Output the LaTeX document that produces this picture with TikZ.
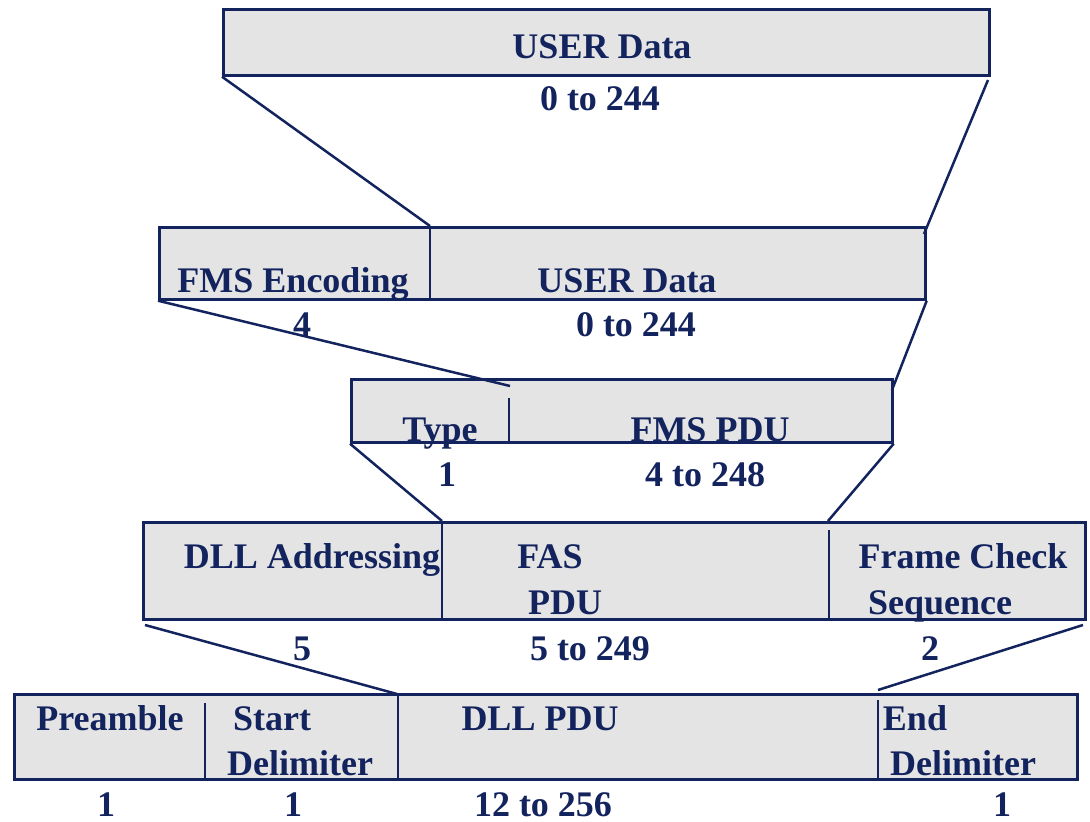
\documentclass[tikz,border=0pt]{standalone}
\usepackage{fontspec}
\setmainfont{Liberation Serif}
\begin{document}
\begin{tikzpicture}[x=1pt,y=-1pt,
  ink/.style={draw=navy,line width=2.7pt},
  field/.style={ink,fill=cellgray,inner sep=0pt,anchor=north west},
  lbl/.style={anchor=base,inner sep=0pt,text=navy,font=\fontsize{36}{40}\selectfont\bfseries},
  link/.style={draw=navy,line width=2.5pt}]
\definecolor{navy}{HTML}{13235E}
\definecolor{cellgray}{HTML}{E4E4E4}
\useasboundingbox (0,0) rectangle (1090,822);

% ---- frame boxes ----
\node[field,minimum width=766pt,minimum height=66pt] (b1) at (222,8) {};
\node[field,minimum width=766pt,minimum height=72pt] (b2) at (158,226) {};
\node[field,minimum width=541pt,minimum height=63pt] (b3) at (350,378) {};
\node[field,minimum width=942pt,minimum height=97pt] (b4) at (142,521) {};
\node[field,minimum width=1063pt,minimum height=85pt] (b5) at (13,693) {};

% ---- field dividers ----
\coordinate (d2t) at (430,226); \coordinate (d2b) at (430,300);
\coordinate (d3t) at (509,398); \coordinate (d3b) at (509,441);
\coordinate (d4at) at (442,521); \coordinate (d4ab) at (442,620);
\coordinate (d4bt) at (829,530); \coordinate (d4bb) at (829,618);
\coordinate (d5at) at (205,703); \coordinate (d5ab) at (205,778);
\coordinate (d5bt) at (398,693); \coordinate (d5bb) at (398,778);
\coordinate (d5ct) at (878,700); \coordinate (d5cb) at (878,780);
\draw[ink] (d2t) -- (d2b);
\draw[ink] (d3t) -- (d3b);
\draw[ink] (d4at) -- (d4ab);
\draw[ink] (d4bt) -- (d4bb);
\draw[ink] (d5at) -- (d5ab);
\draw[ink] (d5bt) -- (d5bb);
\draw[ink] (d5ct) -- (d5cb);

% ---- encapsulation lines ----
\coordinate (r1) at (988,80);  \coordinate (r2) at (924,234);
\coordinate (l3) at (510,386); \coordinate (r3) at (892,390);
\coordinate (r4) at (828,521);
\coordinate (l4s) at (145,625); \coordinate (l5) at (397,694);
\coordinate (r4s) at (1083,625); \coordinate (r5) at (878,690);
\draw[link] (b1.south west) -- (d2t);
\draw[link] (r1) -- (r2);
\draw[link] (b2.south west) -- (l3);
\draw[link] (b2.south east) -- (r3);
\draw[link] (b3.south west) -- (d4at);
\draw[link] (b3.south east) -- (r4);
\draw[link] (l4s) -- (l5);
\draw[link] (r4s) -- (r5);

% ---- field names ----
\node[lbl] (t1) at (602,58) {USER Data};
\node[lbl] (t2a) at (293,292) {FMS Encoding};
\node[lbl] (t2b) at (627,292) {USER Data};
\node[lbl] (t3a) at (440,441) {Type};
\node[lbl] (t3b) at (710,441) {FMS PDU};
\node[lbl] (t4a) at (312,568) {DLL Addressing};
\node[lbl] (t4b) at (550,568) {FAS};
\node[lbl] (t4c) at (565,614) {PDU};
\node[lbl] (t4d) at (963,568) {Frame Check};
\node[lbl] (t4e) at (940,614) {Sequence};
\node[lbl] (t5a) at (110,730) {Preamble};
\node[lbl] (t5b) at (272,730) {Start};
\node[lbl] (t5c) at (300,775) {Delimiter};
\node[lbl] (t5d) at (540,730) {DLL PDU};
\node[lbl] (t5e) at (915,730) {End};
\node[lbl] (t5f) at (963,775) {Delimiter};

% ---- field sizes ----
\node[lbl] (n1) at (600,110) {0 to 244};
\node[lbl] (n2a) at (302,336) {4};
\node[lbl] (n2b) at (636,336) {0 to 244};
\node[lbl] (n3a) at (447,486) {1};
\node[lbl] (n3b) at (705,486) {4 to 248};
\node[lbl] (n4a) at (302,660) {5};
\node[lbl] (n4b) at (590,660) {5 to 249};
\node[lbl] (n4c) at (930,660) {2};
\node[lbl] (n5a) at (106,816) {1};
\node[lbl] (n5b) at (293,816) {1};
\node[lbl] (n5c) at (543,816) {12 to 256};
\node[lbl] (n5d) at (1002,816) {1};
\end{tikzpicture}
\end{document}
